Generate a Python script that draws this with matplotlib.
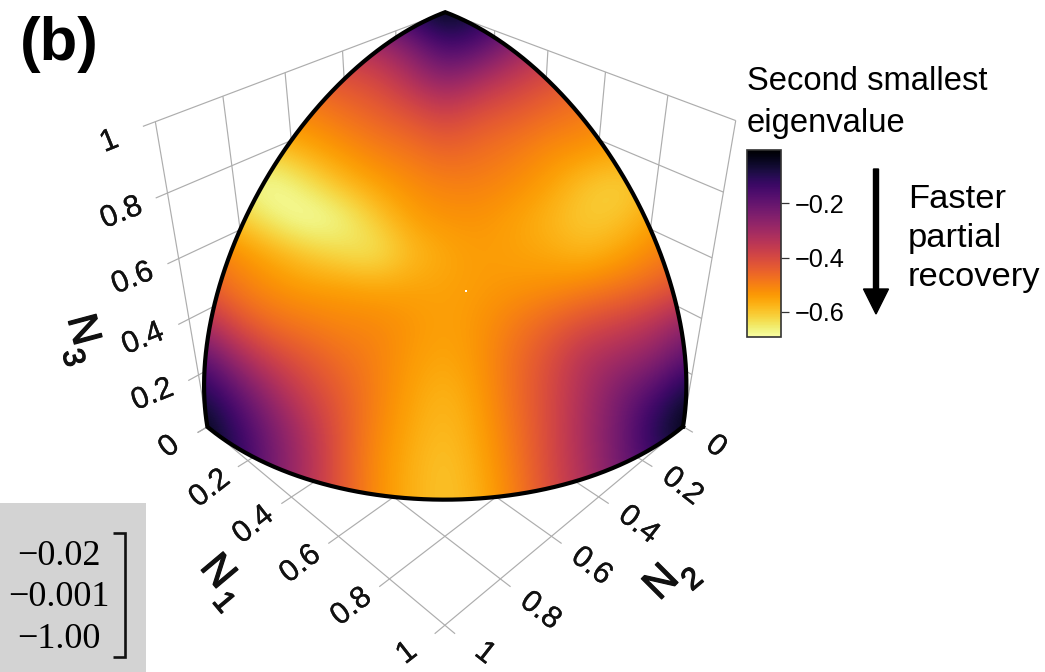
import numpy as np
import matplotlib
matplotlib.use("Agg")
import matplotlib.pyplot as plt
from matplotlib.patches import Rectangle, Polygon
import matplotlib.patheffects as pe

plt.rcParams['font.family'] = ['Liberation Sans', 'DejaVu Sans']

W, H = 1045, 672
# colour-map sampling positions on the picture
grid_x = [200, 235, 270, 305, 340, 375, 410, 445, 480, 515, 550, 585, 620, 655, 690]
grid_y = [10, 45, 80, 115, 150, 185, 220, 255, 290, 325, 360, 395, 430, 465, 500]
# second smallest eigenvalue
eig_y010 = [-.14, -.14, -.14, -.14, -.14, -.14, -.08, -.01, -.07, -.14, -.14, -.14, -.14, -.14, -.14]
eig_y045 = [-.34, -.34, -.34, -.34, -.34, -.31, -.24, -.13, -.17, -.27, -.34, -.34, -.34, -.34, -.34]
eig_y080 = [-.48, -.48, -.48, -.45, -.42, -.40, -.33, -.26, -.32, -.37, -.41, -.45, -.48, -.48, -.48]
eig_y115 = [-.53, -.53, -.51, -.51, -.48, -.45, -.42, -.38, -.42, -.44, -.47, -.49, -.52, -.52, -.52]
eig_y150 = [-.60, -.60, -.60, -.56, -.53, -.50, -.48, -.45, -.47, -.49, -.52, -.53, -.55, -.55, -.55]
eig_y185 = [-.64, -.66, -.70, -.65, -.59, -.55, -.52, -.50, -.50, -.52, -.55, -.60, -.62, -.58, -.55]
eig_y220 = [-.56, -.60, -.66, -.70, -.68, -.61, -.55, -.53, -.53, -.55, -.58, -.61, -.60, -.55, -.51]
eig_y255 = [-.48, -.52, -.56, -.60, -.63, -.65, -.59, -.56, -.54, -.55, -.56, -.58, -.55, -.51, -.47]
eig_y290 = [-.42, -.49, -.52, -.54, -.54, -.55, -.55, -.55, -.54, -.53, -.52, -.50, -.48, -.45, -.40]
eig_y325 = [-.31, -.41, -.47, -.49, -.51, -.51, -.53, -.55, -.53, -.49, -.45, -.41, -.38, -.34, -.26]
eig_y360 = [-.17, -.29, -.38, -.43, -.47, -.50, -.54, -.56, -.53, -.47, -.41, -.33, -.30, -.26, -.17]
eig_y395 = [-.08, -.18, -.29, -.38, -.44, -.50, -.55, -.58, -.54, -.47, -.40, -.32, -.23, -.16, -.05]
eig_y430 = [-.01, -.12, -.23, -.33, -.43, -.51, -.56, -.59, -.55, -.48, -.40, -.31, -.22, -.09, -.01]
eig_y465 = [-.03, -.10, -.22, -.32, -.43, -.52, -.57, -.60, -.56, -.49, -.40, -.32, -.22, -.14, -.07]
eig_y500 = [-.07, -.14, -.24, -.33, -.43, -.52, -.57, -.60, -.57, -.50, -.41, -.33, -.24, -.17, -.10]
eig_rows = [eig_y010, eig_y045, eig_y080, eig_y115, eig_y150, eig_y185, eig_y220, eig_y255,
            eig_y290, eig_y325, eig_y360, eig_y395, eig_y430, eig_y465, eig_y500]

axis_ticks = [0, 0.2, 0.4, 0.6, 0.8, 1]
tick_text = ['0', '0.2', '0.4', '0.6', '0.8', '1']
cbar_ticks = [-0.2, -0.4, -0.6]
matrix_rows = ['\u22120.02', '\u22120.001', '\u22121.00']

# camera: calibrate a projective map (N1, N2, N3) -> picture from the cube's visible points
cube = np.array([[0,1,0],[1,0,0],[1,1,0],[0,0,1],[0,1,1],[1,0,1],[.8,.8,0],[.2,1,0],[.8,1,0],
                 [1,.8,0],[1,.2,0],[0,1,.8],[0,1,.6],[1,0,.8]], float)
pix = np.array([[207,428],[685,428],[445,627],[445,12],[155,122],[737,121],[445,535],[248,460],[389,579],
                [501,578],[640,459],[167,193],[180,258],[722,192]], float)
A = []
for (a, b, c), (u, v) in zip(cube, pix):
    A.append([a, b, c, 1, 0, 0, 0, 0, -u*a, -u*b, -u*c, -u])
    A.append([0, 0, 0, 0, a, b, c, 1, -v*a, -v*b, -v*c, -v])
P = np.linalg.svd(np.array(A))[2][-1].reshape(3, 4)

def proj(a, b, c):
    a, b, c = np.broadcast_arrays(np.asarray(a, float), np.asarray(b, float), np.asarray(c, float))
    h = P @ np.stack([a, b, c, np.ones_like(a)])
    return h[0]/h[2], h[1]/h[2]

fig = plt.figure(figsize=(W/100, H/100), dpi=100)
ax = fig.add_axes([0, 0, 1, 1])

# grid on the floor and the two back walls
gc = dict(color='#adadad', lw=0.85, zorder=1, solid_capstyle='butt')
s = np.array([0, 1.0])
for t in axis_ticks:
    ax.plot(*proj(t + 0*s, 1.035*s, 0*s), **gc)
    ax.plot(*proj(1.035*s, t + 0*s, 0*s), **gc)
    ax.plot(*proj(0*s, 1.035*s, t + 0*s), **gc)
    ax.plot(*proj(1.0*s, 0*s, t + 0*s), **gc)
    ax.plot(*proj(0*s, t + 0*s, s), **gc)
    ax.plot(*proj(t + 0*s, 0*s, s), **gc)

# octant of the unit sphere
arc = np.linspace(0, np.pi/2, 120)
x1, y1 = proj(np.cos(arc), np.sin(arc), 0*arc)          # floor arc, N1 axis -> N2 axis
x2, y2 = proj(0*arc, np.cos(arc), np.sin(arc))          # N2 axis -> N3 axis
x3, y3 = proj(np.sin(arc), 0*arc, np.cos(arc))          # N3 axis -> N1 axis
ox = np.r_[x1, x2, x3]
oy = np.r_[y1, y2, y3]

d = 17.5
im = ax.imshow(np.array(eig_rows), cmap='inferno_r', vmin=-0.692, vmax=-0.005,
               extent=(grid_x[0]-d, grid_x[-1]+d, grid_y[-1]+d, grid_y[0]-d),
               interpolation='bicubic', interpolation_stage='data', aspect='auto', zorder=2)
clip = Polygon(np.c_[ox, oy], closed=True, transform=ax.transData, fc='none', ec='none')
ax.add_patch(clip)
im.set_clip_path(clip)
ax.plot(np.r_[ox, ox[0]], np.r_[oy, oy[0]], color='black', lw=3.0, zorder=3, solid_joinstyle='miter')
ax.add_patch(Rectangle((465, 290.3), 2.2, 1.2, fc='white', ec='none', zorder=3))

# axis numbers
thin = [pe.withStroke(linewidth=0.2, foreground='#111111')]
lab = dict(fontsize=22, ha='center', va='center', rotation_mode='anchor', color='#111111',
           zorder=5, path_effects=thin)
for t, s_ in zip(axis_ticks, tick_text):
    x, y = proj(t, 1, 0)
    ax.text(x - 38, y + 28 if t else y + 20, s_, rotation=38, **lab)
    x, y = proj(1, t, 0)
    ax.text(x + 40 if t else x + 33, (y + 28 if t == 1 else y + 24 + 10*t) if t else y + 20,
            s_, rotation=-38, **lab)
    if t:
        x, y = proj(0, 1, t)
        ax.text(x - 46, y + 20, s_, rotation=22, **lab)

# axis titles
tit = dict(ha='center', va='center', rotation_mode='anchor', color='#111111',
           path_effects=[pe.withStroke(linewidth=0.9, foreground='#111111')])
ax.text(217, 572, 'N', fontsize=30, rotation=-50, **tit)
ax.text(223, 603, '1', fontsize=22, rotation=-50, **tit)
ax.text(662, 583, 'N', fontsize=30, rotation=45, **tit)
ax.text(693, 580, '2', fontsize=22, rotation=40, **tit)
ax.text(82, 330, 'N', fontsize=30, rotation=-75, **tit)
ax.text(72, 358, '3', fontsize=22, rotation=-75, **tit)

ax.text(20, 60, '(b)', fontsize=44.5, fontweight='bold', va='baseline', ha='left')
ax.text(747, 90, 'Second smallest', fontsize=23.6, va='baseline')
ax.text(747, 132, 'eigenvalue', fontsize=23.6, va='baseline')
for txt, yb in zip(['Faster', 'partial', 'recovery'], [208, 247, 286]):
    ax.text(908, yb, txt, fontsize=24.8, va='baseline')
ax.arrow(876, 169, 0, 145, width=5, head_width=25, head_length=25,
         length_includes_head=True, color='black', zorder=5)

# matrix fragment
ax.add_patch(Rectangle((0, 503), 146, 169, fc='#d3d3d3', ec='none', zorder=1))
for txt, yb in zip(matrix_rows, [565, 606, 648]):
    ax.text(59, yb, txt, fontsize=26, family='Liberation Serif', ha='center', va='baseline', zorder=4)
ax.plot([113, 125, 125, 113], [533, 533, 657, 657], color='#111111', lw=1.9, zorder=4,
        solid_joinstyle='miter', solid_capstyle='butt')

ax.set_xlim(0, W)
ax.set_ylim(H, 0)
ax.axis('off')

# colour bar
cax = fig.add_axes([747/W, 1 - 337/H, 34/W, 187/H])
cb = fig.colorbar(im, cax=cax, ticks=cbar_ticks)
cb.ax.tick_params(labelsize=18.2, length=5.8, width=0.9, pad=4.2, color='#333333')
cb.outline.set_edgecolor('#333333')
cb.outline.set_linewidth(1.2)

fig.savefig('out.png', dpi=100)
